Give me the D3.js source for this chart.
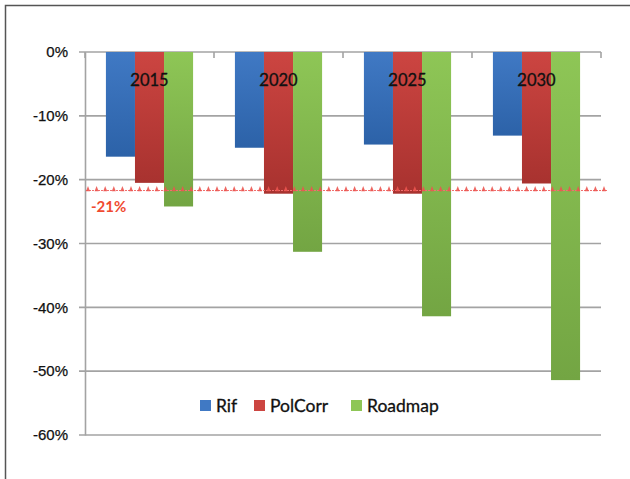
<!DOCTYPE html>
<html>
<head>
<meta charset="utf-8">
<script src="https://cdn.jsdelivr.net/npm/d3@7"></script>
<style>
  body { margin: 0; background: #fff; }
  svg { display: block; font-family: Lato, "Open Sans", sans-serif; }
</style>
</head>
<body>
<script>
// data (percent change)
var years = ["2015", "2020", "2025", "2030"];
var seriesNames = ["Rif", "PolCorr", "Roadmap"];
var rif = [-16.4, -15.0, -14.5, -13.1];
var polCorr = [-20.5, -22.2, -22.2, -20.6];
var roadmap = [-24.2, -31.3, -41.4, -51.4];
var yTicks = [0, -10, -20, -30, -40, -50, -60];
var target = -21.7;
var targetLabel = "-21%";

var width = 630, height = 479;
var svg = d3.select("body").append("svg")
    .attr("width", width)
    .attr("height", height);

//frame
svg.append("path")
    .attr("d", "M5.5,479V5.5H630")
    .attr("fill", "none")
    .attr("stroke", "#555")
    .attr("stroke-width", 1.5);

//gradients
var colors = {
  Rif: ["#4079c4", "#2c62a8"],
  PolCorr: ["#cc4541", "#a8322f"],
  Roadmap: ["#8ec656", "#73a543"]
};
var defs = svg.append("defs");
seriesNames.forEach(function(s) {
  var g = defs.append("linearGradient")
      .attr("id", "g-" + s)
      .attr("x1", 0).attr("y1", 0).attr("x2", 0).attr("y2", 1);
  g.append("stop").attr("offset", "0%").attr("stop-color", colors[s][0]);
  g.append("stop").attr("offset", "100%").attr("stop-color", colors[s][1]);
});

//scales
var xScale = d3.scaleBand().domain(years).range([85, 601]);
var xInner = d3.scaleBand().domain(seriesNames)
    .range([0, xScale.bandwidth()])
    .paddingInner(0).paddingOuter(0.72);
var yScale = d3.scaleLinear().domain([-60, 0]).range([435, 52]);

//gridlines
svg.append("g").selectAll("line")
    .data(yTicks)
    .enter().append("line")
    .attr("x1", 79).attr("x2", 601)
    .attr("y1", function(d) { return yScale(d); })
    .attr("y2", function(d) { return yScale(d); })
    .attr("stroke", "#a3a3a3")
    .attr("stroke-width", 1.6);

//y axis
var yAxis = d3.axisLeft(yScale)
    .tickValues(yTicks)
    .tickSize(0)
    .tickPadding(17)
    .tickFormat(function(d) { return d + "%"; });
var yG = svg.append("g").attr("transform", "translate(85,0)").call(yAxis);
yG.select(".domain").attr("stroke", "#a3a3a3").attr("stroke-width", 1.6);
yG.selectAll("text").attr("font-size", 15).attr("fill", "#111")
    .attr("stroke", "#111").attr("stroke-width", 0.25);

//category tick marks on the zero line
svg.append("g").selectAll("line")
    .data(years.concat(["end"]))
    .enter().append("line")
    .attr("x1", function(d, i) { return i < years.length ? xScale(d) : xScale.range()[1]; })
    .attr("x2", function(d, i) { return i < years.length ? xScale(d) : xScale.range()[1]; })
    .attr("y1", yScale(0)).attr("y2", yScale(0) + 6)
    .attr("stroke", "#a3a3a3").attr("stroke-width", 1.6);

//bars
var table = years.map(function(y, i) {
  return { year: y, Rif: rif[i], PolCorr: polCorr[i], Roadmap: roadmap[i] };
});
var groups = svg.append("g").selectAll("g")
    .data(table)
    .enter().append("g")
    .attr("transform", function(d) { return "translate(" + xScale(d.year) + ",0)"; });

groups.selectAll("rect")
    .data(function(d) { return seriesNames.map(function(s) { return { key: s, value: d[s] }; }); })
    .enter().append("rect")
    .attr("x", function(d) { return xInner(d.key); })
    .attr("width", xInner.bandwidth())
    .attr("y", yScale(0))
    .attr("height", function(d) { return yScale(d.value) - yScale(0); })
    .attr("fill", function(d) { return "url(#g-" + d.key + ")"; });

//year labels inside the bars
groups.append("text")
    .attr("x", xScale.bandwidth() / 2)
    .attr("y", 86)
    .attr("text-anchor", "middle")
    .attr("font-size", 16.5)
    .attr("fill", "#111")
    .attr("stroke", "#111").attr("stroke-width", 0.3)
    .text(function(d) { return d.year; });

//target line, little red triangles along a dotted line
var ty = yScale(target);
svg.append("line")
    .attr("x1", 86).attr("x2", 607)
    .attr("y1", ty).attr("y2", ty)
    .attr("stroke", "#f07070")
    .attr("stroke-width", 1.2)
    .attr("stroke-dasharray", "2,1");
svg.append("g").selectAll("path")
    .data(d3.range(88, 606, 8.6))
    .enter().append("path")
    .attr("d", function(x) { return "M" + (x - 2) + "," + (ty + 0.8) + "L" + x + "," + (ty - 4.5) + "L" + (x + 2) + "," + (ty + 0.8) + "Z"; })
    .attr("fill", "#ec5550")
    .attr("opacity", 0.9);
svg.append("text")
    .attr("x", 91).attr("y", ty + 21)
    .attr("font-size", 15)
    .attr("font-weight", "bold")
    .attr("fill", "#f04a30")
    .text(targetLabel);

//legend
var legendX = [200, 254, 351];
var legend = svg.append("g").selectAll("g")
    .data(seriesNames)
    .enter().append("g")
    .attr("transform", function(d, i) { return "translate(" + legendX[i] + ",400)"; });
legend.append("rect")
    .attr("width", 11).attr("height", 11)
    .attr("fill", function(d) { return colors[d][0]; });
legend.append("text")
    .attr("x", 16).attr("y", 11.5)
    .attr("font-size", 17.5)
    .attr("fill", "#111")
    .attr("stroke", "#111").attr("stroke-width", 0.3)
    .text(function(d) { return d; });
</script>
</body>
</html>
